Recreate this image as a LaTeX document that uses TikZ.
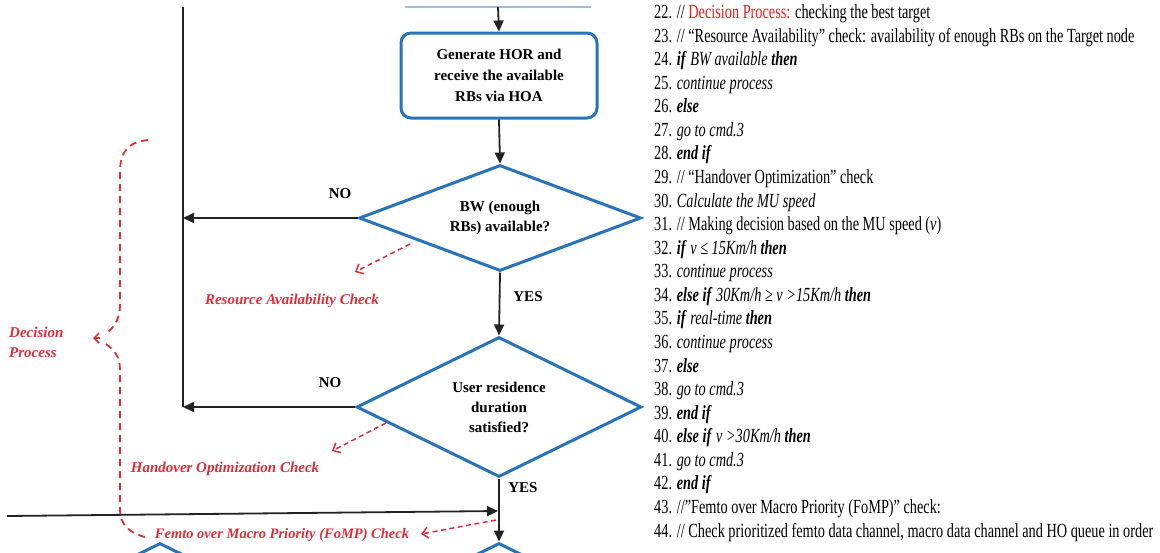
\documentclass[tikz,border=0pt]{standalone}
\usepackage{fontspec}
\setmainfont{Liberation Serif}
\usetikzlibrary{arrows.meta,shapes.geometric,calc}

\definecolor{flowblue}{RGB}{40,115,185}
\definecolor{paleblue}{RGB}{160,190,215}
\definecolor{notered}{RGB}{222,45,55}
\definecolor{hlred}{RGB}{235,30,30}
\definecolor{linegray}{RGB}{35,35,35}

% keyword style of the pseudo-code
\newcommand\kw[1]{\textbf{\textit{#1}}}
% one numbered pseudo-code line, baseline at the given y
\newcommand\codeline[3]{\node[codetext] (#1) at (654,#2) {\scalebox{0.715}[1]{\fontsize{20}{24}\selectfont #3}};}

\tikzset{
  procbox/.style={draw=flowblue, line width=3pt, rounded corners=10pt, fill=white,
    minimum width=196pt, minimum height=85pt, align=center, inner sep=0pt,
    font=\fontsize{15}{21}\selectfont\bfseries},
  prevbox/.style={minimum width=186pt, minimum height=86pt, inner sep=0pt},
  paleedge/.style={draw=paleblue, line width=1.5pt},
  decision/.style={diamond, draw=flowblue, line width=3pt, fill=white, align=center,
    inner sep=0pt, font=\fontsize{15}{20}\selectfont\bfseries},
  flow/.style={draw=linegray, line width=1.8pt, -{Triangle[length=11pt,width=10pt]}},
  plainflow/.style={draw=linegray, line width=1.8pt},
  ynlabel/.style={font=\fontsize{15}{18}\selectfont\bfseries, inner sep=0pt},
  notelabel/.style={text=notered, inner sep=0pt, align=left,
    font=\fontsize{15}{20}\selectfont\bfseries\itshape},
  notearrow/.style={draw=notered, line width=1.5pt, dash pattern=on 5pt off 3.5pt,
    -{Straight Barb[length=6pt,width=11pt]}},
  bracepath/.style={draw=notered, line width=1.8pt, dash pattern=on 7pt off 5pt},
  codetext/.style={anchor=base west, inner sep=0pt}
}

\begin{document}
\begin{tikzpicture}[x=1pt, y=-1pt]
\useasboundingbox (0,0) rectangle (1160,552);
\fill[white] (0,0) rectangle (1160,552);
\clip (0,0) rectangle (1160,552);

% ---------------- flow chart ----------------
\node[prevbox] (prev) at (498,-36) {};
\draw[paleedge] (prev.south west) -- (prev.south east);
\node[procbox] (gen) at (499,75.5) {Generate HOR and\\receive the available\\RBs via HOA};
\node[decision, shape aspect=2.66, minimum width=282pt, minimum height=106pt] (bw) at (500,218) {BW (enough\\RBs) available?};
\node[decision, shape aspect=2.04, minimum width=285pt, minimum height=140pt] (urd) at (499,407) {User residence\\duration\\satisfied?};
\node[decision, shape aspect=2.04, minimum width=285pt, minimum height=140pt] (next1) at (160,613) {};
\node[decision, shape aspect=2.04, minimum width=285pt, minimum height=140pt] (next2) at (499,613) {};

\draw[flow] (prev.south) -- (gen.north);
\draw[flow] (gen.south) -- (bw.north);
\draw[flow] (bw.south) -- (urd.north);
\draw[flow] (urd.south) -- (next2.north);

% return path on the left
\coordinate (looptop) at (183,7);
\draw[plainflow] (looptop) -- (looptop |- urd.west);
\draw[flow] (bw.west) -- (bw.west -| looptop);
\draw[flow] (urd.west) -- (urd.west -| looptop);

% incoming line from the left
\coordinate (entry) at (7,516);
\coordinate (merge) at (498,511);
\draw[flow] (entry) -- (merge);

% branch labels
\node[ynlabel] (no1) at (340,194) {NO};
\node[ynlabel] (no2) at (330,383) {NO};
\node[ynlabel] (yes1) at (528,297) {YES};
\node[ynlabel] (yes2) at (523,488) {YES};

% ---------------- red annotations ----------------
\node[notelabel] (rac) at (292,301) {Resource Availability Check};
\node[notelabel] (hoc) at (225,469) {Handover Optimization Check};
\node[notelabel, font=\fontsize{14.5}{18}\selectfont\bfseries\itshape] (fomp) at (282,535) {Femto over Macro Priority (FoMP) Check};
\node[notelabel, anchor=west] (dp) at (9,342) {Decision\\Process};

\coordinate (ra1) at (410,244);
\coordinate (ra2) at (355,272);
\draw[notearrow] (ra1) -- (ra2);
\coordinate (ho1) at (386,423);
\coordinate (ho2) at (332,451);
\draw[notearrow] (ho1) -- (ho2);
\coordinate (fo1) at (496,520);
\coordinate (fo2) at (421,534);
\draw[notearrow] (fo1) -- (fo2);

% dashed brace grouping the three checks
\coordinate (bracetip) at (93,338);
\draw[bracepath] (148,140) .. controls (128,142) and (120,152) .. (120,172)
  -- (120,305) .. controls (120,318) and (115,326) .. (108,332);
\draw[bracepath] (106,344) .. controls (114,350) and (120,356) .. (120,370)
  -- (120,510) .. controls (120,525) and (130,533) .. (145,537);
\draw[draw=notered, line width=1.5pt, -{Straight Barb[length=5pt,width=10pt]}] (100,338) -- (bracetip);

% ---------------- pseudo-code ----------------
\codeline{l22}{18.5}{22. // \textcolor{hlred}{Decision Process:} checking the best target}
\codeline{l23}{42.1}{23. // “Resource Availability” check: availability of enough RBs on the Target node}
\codeline{l24}{65.6}{24. \kw{if} \textit{BW available} \kw{then}}
\codeline{l25}{89.2}{25. \textit{continue process}}
\codeline{l26}{112.8}{26. \kw{else}}
\codeline{l27}{136.4}{27. \textit{go to cmd.3}}
\codeline{l28}{159.9}{28. \kw{end if}}
\codeline{l29}{183.5}{29. // “Handover Optimization” check}
\codeline{l30}{207.1}{30. \textit{Calculate the MU speed}}
\codeline{l31}{230.6}{31. // Making decision based on the MU speed (\textit{v})}
\codeline{l32}{254.2}{32. \kw{if} \textit{v ≤ 15Km/h} \kw{then}}
\codeline{l33}{277.8}{33. \textit{continue process}}
\codeline{l34}{301.4}{34. \kw{else if} \textit{30Km/h ≥ v >15Km/h} \kw{then}}
\codeline{l35}{324.9}{35. \kw{if} \textit{real-time} \kw{then}}
\codeline{l36}{348.5}{36. \textit{continue process}}
\codeline{l37}{372.1}{37. \kw{else}}
\codeline{l38}{395.6}{38. \textit{go to cmd.3}}
\codeline{l39}{419.2}{39. \kw{end if}}
\codeline{l40}{442.8}{40. \kw{else if} \textit{v >30Km/h} \kw{then}}
\codeline{l41}{466.4}{41. \textit{go to cmd.3}}
\codeline{l42}{489.9}{42. \kw{end if}}
\codeline{l43}{513.5}{43. //”Femto over Macro Priority (FoMP)” check:}
\codeline{l44}{537.1}{44. // Check prioritized femto data channel, macro data channel and HO queue in order}
\end{tikzpicture}
\end{document}
